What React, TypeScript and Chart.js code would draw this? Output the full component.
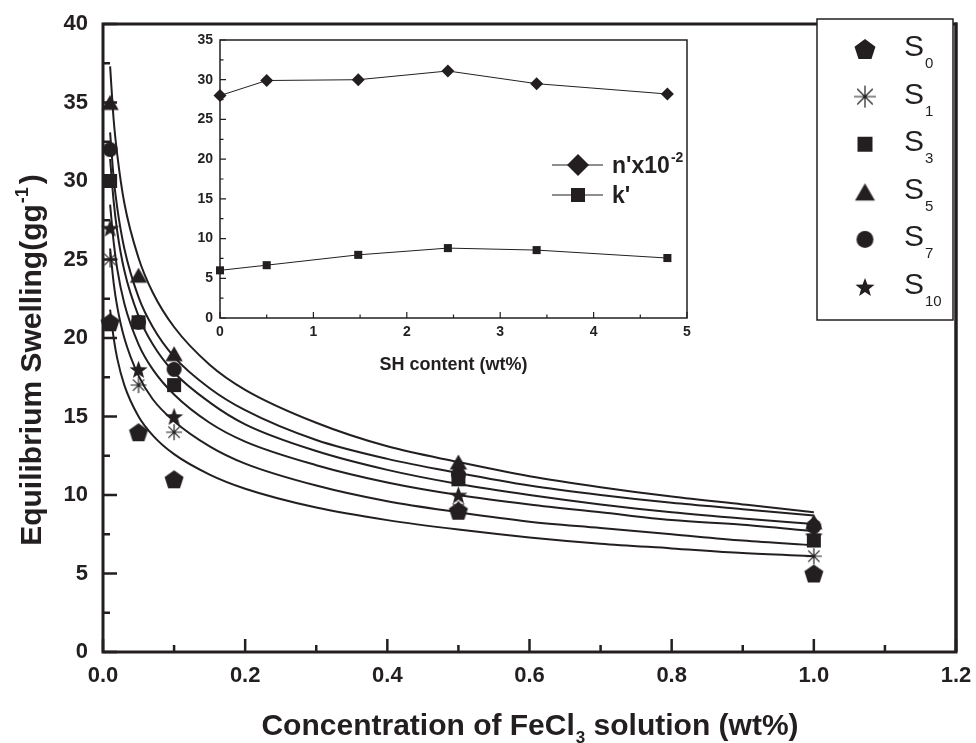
import React, { useEffect, useRef } from 'react';
import { Chart, registerables } from 'chart.js';

Chart.register(...registerables);

const INK = '#231f20';
const FONT = "'Liberation Sans', Arial, Helvetica, sans-serif";

// ---------- main chart data ----------
const CONC = [0.01, 0.05, 0.1, 0.5, 1.0];
const S0 = [21, 14, 11, 9, 5];
const S1 = [25, 17, 14, 9.1, 6.1];
const S3 = [30, 21, 17, 11, 7.1];
const S5 = [35, 24, 19, 12.1, 8.3];
const S7 = [32, 21, 18, 11.3, 8.0];
const S10 = [27, 18, 15, 10, 7.4];

// fitted curves
const FIT_X = [0.01, 0.015, 0.02, 0.03, 0.05, 0.07, 0.1, 0.15, 0.2, 0.3, 0.4, 0.5, 0.6, 0.7, 0.8, 0.9, 1.0];
const FIT_S5 = [37.3, 33.9, 31.7, 28.6, 25.1, 22.9, 20.7, 18.3, 16.7, 14.6, 13.1, 12.1, 11.2, 10.5, 9.9, 9.4, 8.9];
const FIT_S7 = [33.1, 30.2, 28.3, 25.7, 22.6, 20.7, 18.8, 16.8, 15.4, 13.5, 12.3, 11.4, 10.6, 10.0, 9.5, 9.1, 8.7];
const FIT_S3 = [31.4, 28.7, 26.8, 24.3, 21.4, 19.6, 17.8, 15.9, 14.5, 12.8, 11.6, 10.7, 10.0, 9.4, 8.9, 8.5, 8.15];
const FIT_S10 = [28.5, 26.1, 24.4, 22.2, 19.6, 18.0, 16.4, 14.6, 13.4, 11.9, 10.8, 10.0, 9.4, 8.9, 8.4, 8.1, 7.7];
const FIT_S1 = [25.7, 23.5, 22.0, 20.0, 17.6, 16.1, 14.7, 13.1, 12.0, 10.6, 9.6, 8.9, 8.3, 7.9, 7.5, 7.1, 6.8];
const FIT_S0 = [21.8, 20.0, 18.7, 17.0, 15.0, 13.8, 12.6, 11.3, 10.4, 9.2, 8.4, 7.8, 7.3, 6.9, 6.6, 6.3, 6.1];

const X_TICK_LABELS = ['0.0', '0.2', '0.4', '0.6', '0.8', '1.0', '1.2'];
const Y_TICK_LABELS = ['0', '5', '10', '15', '20', '25', '30', '35', '40'];

const SERIES_NAMES = ['0', '1', '3', '5', '7', '10'];

// ---------- inset data ----------
const SH = [0, 0.5, 1.48, 2.44, 3.39, 4.79];
const N_PRIME = [28.0, 29.9, 30.0, 31.1, 29.5, 28.2];
const K_PRIME = [6.0, 6.65, 7.95, 8.8, 8.55, 7.55];
const INSET_X_TICKS = ['0', '1', '2', '3', '4', '5'];
const INSET_Y_TICKS = ['0', '5', '10', '15', '20', '25', '30', '35'];

type MarkerKind = 'pentagon' | 'asterisk' | 'square' | 'triangle' | 'circle' | 'star';

function makeMarker(kind: MarkerKind, r: number): HTMLCanvasElement {
  const size = Math.ceil(r * 2 + 4);
  const c = document.createElement('canvas');
  c.width = size;
  c.height = size;
  const g = c.getContext('2d') as CanvasRenderingContext2D;
  const cx = size / 2;
  const cy = size / 2;
  g.fillStyle = INK;
  g.strokeStyle = INK;
  g.beginPath();
  if (kind === 'pentagon') {
    const oy = cy + r * 0.095;
    for (let i = 0; i < 5; i++) {
      const a = -Math.PI / 2 + (i * 2 * Math.PI) / 5;
      const px = cx + r * Math.cos(a);
      const py = oy + r * Math.sin(a);
      if (i === 0) g.moveTo(px, py);
      else g.lineTo(px, py);
    }
    g.closePath();
    g.fill();
  } else if (kind === 'star') {
    const ri = r * 0.42;
    const oy = cy + r * 0.09;
    for (let i = 0; i < 10; i++) {
      const a = -Math.PI / 2 + (i * Math.PI) / 5;
      const rr = i % 2 === 0 ? r : ri;
      const px = cx + rr * Math.cos(a);
      const py = oy + rr * Math.sin(a);
      if (i === 0) g.moveTo(px, py);
      else g.lineTo(px, py);
    }
    g.closePath();
    g.fill();
  } else if (kind === 'square') {
    g.fillRect(cx - r, cy - r, 2 * r, 2 * r);
  } else if (kind === 'circle') {
    g.arc(cx, cy, r, 0, Math.PI * 2);
    g.fill();
  } else if (kind === 'triangle') {
    const oy = cy + r * 0.25;
    g.moveTo(cx, oy - r);
    g.lineTo(cx + r * 0.866, oy + r * 0.5);
    g.lineTo(cx - r * 0.866, oy + r * 0.5);
    g.closePath();
    g.fill();
  } else if (kind === 'asterisk') {
    g.lineWidth = 1.2;
    for (let k = 0; k < 4; k++) {
      const a = (k * Math.PI) / 4;
      g.moveTo(cx - r * Math.cos(a), cy - r * Math.sin(a));
      g.lineTo(cx + r * Math.cos(a), cy + r * Math.sin(a));
    }
    g.stroke();
  }
  return c;
}

const KINDS: MarkerKind[] = ['pentagon', 'asterisk', 'square', 'triangle', 'circle', 'star'];
const PLOT_R = [10, 8, 7, 10, 7.5, 9.5];
const LEGEND_R = [11, 11, 7.5, 11.5, 8.5, 10];

export default function App() {
  const mainRef = useRef<HTMLCanvasElement | null>(null);
  const insetRef = useRef<HTMLCanvasElement | null>(null);

  useEffect(() => {
    if (!mainRef.current || !insetRef.current) return;
    const plotMarkers = KINDS.map((k, i) => makeMarker(k, PLOT_R[i]));
    const legendMarkers = KINDS.map((k, i) => makeMarker(k, LEGEND_R[i]));
    const seriesVals = [S0, S1, S3, S5, S7, S10];
    const fits = [FIT_S5, FIT_S7, FIT_S3, FIT_S10, FIT_S1, FIT_S0];

    const markerDatasets = seriesVals.map((vals, si) => ({
      label: 'S' + SERIES_NAMES[si],
      data: CONC.map((x, i) => ({ x, y: vals[i] })),
      showLine: false,
      pointStyle: plotMarkers[si],
      pointRadius: 10,
      borderColor: INK,
      backgroundColor: INK,
      clip: false as any,
    }));
    const curveDatasets = fits.map((f) => ({
      label: '',
      data: FIT_X.map((x, i) => ({ x, y: f[i] })),
      borderColor: INK,
      borderWidth: 2,
      pointRadius: 0,
      cubicInterpolationMode: 'monotone' as const,
      fill: false,
    }));

    const mainDecor = {
      id: 'mainDecor',
      afterDatasetsDraw(chart: any) {
        const { ctx, chartArea: a, scales } = chart;
        const xs = scales.x;
        const ys = scales.y;
        ctx.save();
        ctx.strokeStyle = INK;
        ctx.fillStyle = INK;
        // ticks (inward)
        ctx.lineWidth = 2.5;
        ctx.beginPath();
        for (let i = 0; i <= 12; i++) {
          const px = xs.getPixelForValue(i / 10);
          const len = i % 2 === 0 ? 13 : 7;
          ctx.moveTo(px, a.bottom);
          ctx.lineTo(px, a.bottom - len);
        }
        for (let i = 0; i <= 16; i++) {
          const py = ys.getPixelForValue(i * 2.5);
          const len = i % 2 === 0 ? 14 : 7;
          ctx.moveTo(a.left, py);
          ctx.lineTo(a.left + len, py);
        }
        ctx.stroke();
        // frame
        ctx.lineWidth = 3;
        ctx.strokeRect(a.left, a.top, a.right - a.left, a.bottom - a.top);

        // legend box
        const lx = 817, ly = 19, lw = 136, lh = 301;
        ctx.fillStyle = '#ffffff';
        ctx.fillRect(lx, ly, lw, lh);
        ctx.lineWidth = 1.5;
        ctx.strokeStyle = INK;
        ctx.strokeRect(lx, ly, lw, lh);
        ctx.fillStyle = INK;
        for (let i = 0; i < 6; i++) {
          const yc = 49 + i * 47.6;
          const m = legendMarkers[i];
          ctx.drawImage(m, 865 - m.width / 2, yc - m.height / 2);
          ctx.font = `30px ${FONT}`;
          ctx.textAlign = 'left';
          ctx.textBaseline = 'alphabetic';
          ctx.fillText('S', 904, yc + 7);
          const sw = ctx.measureText('S').width;
          ctx.font = `15px ${FONT}`;
          ctx.fillText(SERIES_NAMES[i], 904 + sw + 1, yc + 19);
        }
        // right border over legend edge
        ctx.lineWidth = 3;
        ctx.beginPath();
        ctx.moveTo(a.right, a.top - 1.5);
        ctx.lineTo(a.right, a.bottom);
        ctx.stroke();

        // x title
        const big = `bold 30px ${FONT}`;
        const small = `bold 17px ${FONT}`;
        ctx.textBaseline = 'alphabetic';
        ctx.textAlign = 'left';
        const p1 = 'Concentration of FeCl';
        const p2 = '3';
        const p3 = ' solution (wt%)';
        ctx.font = big;
        const w1 = ctx.measureText(p1).width;
        const w3 = ctx.measureText(p3).width;
        ctx.font = small;
        const w2 = ctx.measureText(p2).width;
        const cxm = (a.left + a.right) / 2;
        const sx = cxm - (w1 + w2 + w3) / 2;
        ctx.font = big;
        ctx.fillText(p1, sx, 735);
        ctx.font = small;
        ctx.fillText(p2, sx + w1 + 1, 743);
        ctx.font = big;
        ctx.fillText(p3, sx + w1 + w2 + 1, 735);

        // y title (rotated)
        const q1 = 'Equilibrium Swelling(gg';
        const q2 = '-1';
        const q3 = ')';
        const smallSup = `bold 18px ${FONT}`;
        ctx.font = big;
        const v1 = ctx.measureText(q1).width;
        const v3 = ctx.measureText(q3).width;
        ctx.font = smallSup;
        const v2 = ctx.measureText(q2).width;
        ctx.translate(41, 360);
        ctx.rotate(-Math.PI / 2);
        const st = -(v1 + v2 + v3 + 4) / 2;
        ctx.font = big;
        ctx.fillText(q1, st, 0);
        ctx.font = smallSup;
        ctx.fillText(q2, st + v1 + 1, -13);
        ctx.font = big;
        ctx.fillText(q3, st + v1 + v2 + 4, 0);
        ctx.restore();
      },
    };

    const tickFont = { family: FONT, size: 22, weight: 'bold' as const };
    const main = new Chart(mainRef.current, {
      type: 'line',
      data: { datasets: [...markerDatasets, ...curveDatasets] as any },
      options: {
        responsive: false,
        animation: false,
        events: [],
        layout: { padding: { top: 24, right: 20, left: 0, bottom: 0 } },
        plugins: { legend: { display: false }, tooltip: { enabled: false } },
        scales: {
          x: {
            type: 'linear',
            min: 0,
            max: 1.2,
            grid: { display: false, drawTicks: false },
            border: { display: false },
            ticks: {
              stepSize: 0.2,
              font: tickFont,
              color: INK,
              padding: 11,
              maxRotation: 0,
              autoSkip: false,
              callback: (_v: any, i: number) => X_TICK_LABELS[i],
            },
            afterFit: (s: any) => {
              s.height = 91;
              s.paddingLeft = 0;
              s.paddingRight = 0;
            },
          },
          y: {
            type: 'linear',
            min: 0,
            max: 40,
            grid: { display: false, drawTicks: false },
            border: { display: false },
            ticks: {
              stepSize: 5,
              font: tickFont,
              color: INK,
              padding: 15,
              autoSkip: false,
              callback: (_v: any, i: number) => Y_TICK_LABELS[i],
            },
            afterFit: (s: any) => {
              s.width = 103;
              s.paddingTop = 0;
              s.paddingBottom = 0;
            },
          },
        },
      } as any,
      plugins: [mainDecor],
    });

    // ---------- inset ----------
    const OX = 170, OY = 28;
    const insetDecor = {
      id: 'insetDecor',
      afterDatasetsDraw(chart: any) {
        const { ctx, chartArea: a, scales } = chart;
        const xs = scales.x;
        const ys = scales.y;
        ctx.save();
        ctx.strokeStyle = INK;
        ctx.fillStyle = INK;
        ctx.lineWidth = 1.2;
        ctx.beginPath();
        for (let i = 0; i <= 10; i++) {
          const px = xs.getPixelForValue(i * 0.5);
          const len = i % 2 === 0 ? 6 : 3.5;
          ctx.moveTo(px, a.bottom);
          ctx.lineTo(px, a.bottom - len);
        }
        for (let i = 0; i <= 14; i++) {
          const py = ys.getPixelForValue(i * 2.5);
          const len = i % 2 === 0 ? 6 : 3.5;
          ctx.moveTo(a.left, py);
          ctx.lineTo(a.left + len, py);
        }
        ctx.stroke();
        ctx.lineWidth = 1.5;
        ctx.strokeRect(a.left, a.top, a.right - a.left, a.bottom - a.top);

        // inset legend
        const rows = [165 - OY, 195 - OY];
        ctx.lineWidth = 1.2;
        ctx.beginPath();
        for (const ry of rows) {
          ctx.moveTo(552 - OX, ry);
          ctx.lineTo(603 - OX, ry);
        }
        ctx.stroke();
        const mx = 578 - OX;
        ctx.beginPath();
        ctx.moveTo(mx, rows[0] - 11);
        ctx.lineTo(mx + 11, rows[0]);
        ctx.lineTo(mx, rows[0] + 11);
        ctx.lineTo(mx - 11, rows[0]);
        ctx.closePath();
        ctx.fill();
        ctx.fillRect(mx - 7, rows[1] - 7, 14, 14);

        ctx.textAlign = 'left';
        ctx.textBaseline = 'alphabetic';
        ctx.font = `bold 23px ${FONT}`;
        ctx.fillText("n'x10", 612 - OX, rows[0] + 8);
        const nw = ctx.measureText("n'x10").width;
        ctx.font = `bold 14px ${FONT}`;
        ctx.fillText('-2', 612 - OX + nw + 1, rows[0] - 3);
        ctx.font = `bold 23px ${FONT}`;
        ctx.fillText("k'", 612 - OX, rows[1] + 8);

        // inset x title
        ctx.font = `bold 18px ${FONT}`;
        ctx.textAlign = 'center';
        ctx.fillText('SH content (wt%)', (a.left + a.right) / 2, 369.5 - OY);
        ctx.restore();
      },
    };

    const insetFont = { family: FONT, size: 14, weight: 'bold' as const };
    const inset = new Chart(insetRef.current, {
      type: 'line',
      data: {
        datasets: [
          {
            label: "n'x10-2",
            data: SH.map((x, i) => ({ x, y: N_PRIME[i] })),
            borderColor: INK,
            borderWidth: 1,
            pointStyle: 'rectRot',
            pointRadius: 6.5,
            pointBackgroundColor: INK,
            pointBorderColor: INK,
            pointBorderWidth: 0,
            clip: false as any,
          },
          {
            label: "k'",
            data: SH.map((x, i) => ({ x, y: K_PRIME[i] })),
            borderColor: INK,
            borderWidth: 1,
            pointStyle: 'rect',
            pointRadius: 5.7,
            pointBackgroundColor: INK,
            pointBorderColor: INK,
            pointBorderWidth: 0,
            clip: false as any,
          },
        ] as any,
      },
      options: {
        responsive: false,
        animation: false,
        events: [],
        layout: { padding: { top: 12, right: 13, left: 0, bottom: 0 } },
        plugins: { legend: { display: false }, tooltip: { enabled: false } },
        scales: {
          x: {
            type: 'linear',
            min: 0,
            max: 5,
            grid: { display: false, drawTicks: false },
            border: { display: false },
            ticks: {
              stepSize: 1,
              font: insetFont,
              color: INK,
              padding: 6,
              maxRotation: 0,
              autoSkip: false,
              callback: (_v: any, i: number) => INSET_X_TICKS[i],
            },
            afterFit: (s: any) => {
              s.height = 60;
              s.paddingLeft = 0;
              s.paddingRight = 0;
            },
          },
          y: {
            type: 'linear',
            min: 0,
            max: 35,
            grid: { display: false, drawTicks: false },
            border: { display: false },
            ticks: {
              stepSize: 5,
              font: insetFont,
              color: INK,
              padding: 7,
              autoSkip: false,
              callback: (_v: any, i: number) => INSET_Y_TICKS[i],
            },
            afterFit: (s: any) => {
              s.width = 50;
              s.paddingTop = 0;
              s.paddingBottom = 0;
            },
          },
        },
      } as any,
      plugins: [insetDecor],
    });

    return () => {
      main.destroy();
      inset.destroy();
    };
  }, []);

  return (
    <div style={{ position: 'absolute', left: 0, top: 0, width: 976, height: 743, background: '#ffffff', overflow: 'hidden' }}>
      <canvas
        ref={mainRef}
        width={976}
        height={743}
        style={{ position: 'absolute', left: 0, top: 0, width: 976, height: 743 }}
      />
      <canvas
        ref={insetRef}
        width={530}
        height={350}
        style={{ position: 'absolute', left: 170, top: 28, width: 530, height: 350 }}
      />
    </div>
  );
}
